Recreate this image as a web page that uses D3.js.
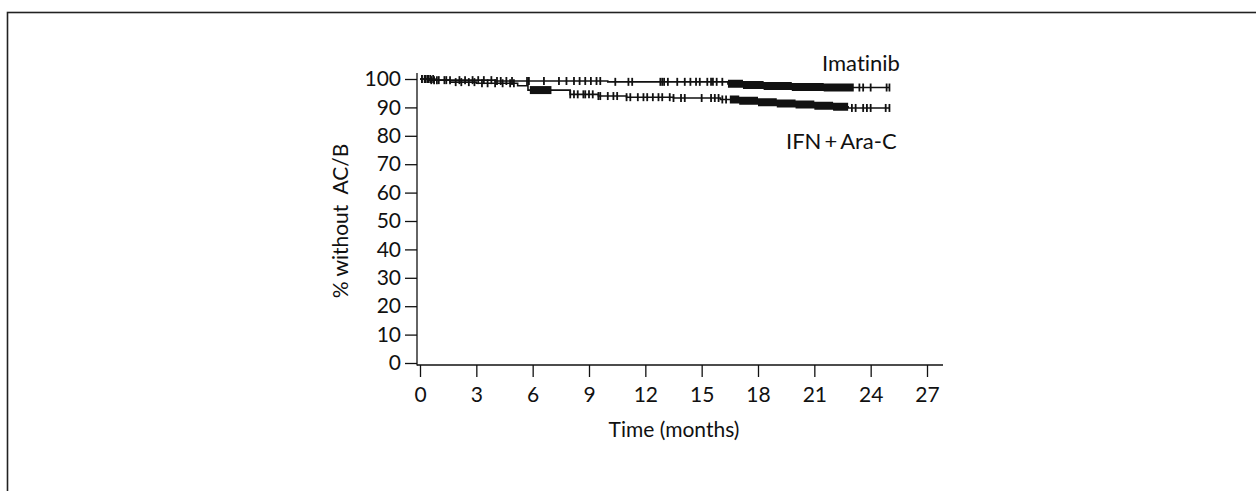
<!DOCTYPE html>
<html>
<head>
<meta charset="utf-8">
<script src="https://cdn.jsdelivr.net/npm/d3@7/dist/d3.min.js"></script>
<style>
  html, body { margin: 0; padding: 0; background: #fff; }
  svg { display: block; }
  text { font-family: Lato, "Open Sans", "DejaVu Sans", sans-serif; fill: #111;
         font-variant-ligatures: none; font-feature-settings: "liga" 0, "dlig" 0; }
</style>
</head>
<body>
<svg id="chart" width="1256" height="491"></svg>
<script>
// Kaplan-Meier step data: time (months) and % without progression to AP/BC
const imatinibTime = [0, 0.8, 4.0, 10.0, 16.4, 17.2, 18.3, 19.8, 21.5, 25.0];
const imatinibSurv = [100, 99.6, 99.3, 99.0, 98.3, 97.9, 97.5, 97.2, 97.0, 97.0];

const ifnTime = [0, 0.5, 1.6, 3.0, 5.2, 5.75, 8.0, 9.5, 11.0, 13.5, 16.0, 17.0, 18.0, 19.0, 20.0, 21.0, 22.0, 22.8, 25.0];
const ifnSurv = [100, 99.6, 98.9, 98.5, 97.6, 96.1, 94.6, 94.0, 93.6, 93.3, 92.8, 92.3, 91.8, 91.4, 91.0, 90.6, 90.2, 89.8, 89.8];

// Censored observations (individual marks)
const imatinibCensor = [0.1, 0.25, 0.4, 0.55, 0.7, 0.9, 1.3, 1.6, 2.1, 2.4, 2.8, 3.1, 3.4, 3.8, 4.1, 4.3, 4.6, 4.9,
  5.7, 5.8, 6.6, 7.4, 7.8, 8.2, 8.5, 8.8, 9.1, 9.4, 9.6, 10.4, 11.1, 11.3, 12.8, 12.9, 13.0, 13.2, 13.7, 14.1,
  14.4, 14.7, 14.9, 15.3, 15.5, 15.6, 15.8, 16.1, 23.4, 23.6, 24.0, 24.85, 25.0];
const ifnCensor = [0.1, 0.3, 0.45, 0.6, 0.75, 1.0, 1.4, 1.9, 2.2, 2.6, 2.9, 3.3, 3.6, 4.0, 4.4, 4.8, 5.0,
  8.0, 8.2, 8.4, 8.7, 8.8, 9.0, 9.2, 9.5, 9.6, 10.0, 10.3, 10.5, 11.0, 11.2, 11.6, 11.9, 12.1, 12.4, 12.7, 12.9,
  13.3, 13.5, 13.9, 14.1, 15.0, 15.5, 15.7, 15.9, 16.1, 16.3, 23.0, 23.2, 23.6, 23.8, 24.0, 24.8, 25.0];

// Stretches where censor marks are so dense they merge: [from, to] months
const imatinibCensorBands = [[16.4, 23.1]];
const ifnCensorBands = [[5.85, 7.0], [16.5, 22.8]];

const xTicks = [0, 3, 6, 9, 12, 15, 18, 21, 24, 27];
const yTicks = [0, 10, 20, 30, 40, 50, 60, 70, 80, 90, 100];

const svg = d3.select("#chart");
const ink = "#111";
const fontSize = 21;

// Frame
svg.append("rect")
  .attr("x", 7.5).attr("y", 12.5).attr("width", 1300).attr("height", 600)
  .attr("fill", "none").attr("stroke", "#222").attr("stroke-width", 1.6);

const x = d3.scaleLinear().domain([0, 27]).range([420, 927]);
const y = d3.scaleLinear().domain([0, 100]).range([363, 79]);

// Axis lines
svg.append("line").attr("x1", 417).attr("x2", 417).attr("y1", 73).attr("y2", 365.5)
  .attr("stroke", ink).attr("stroke-width", 1.3);
svg.append("line").attr("x1", 417).attr("x2", 943).attr("y1", 365).attr("y2", 365)
  .attr("stroke", ink).attr("stroke-width", 1.3);

// Y axis ticks and labels
const yAxis = d3.axisLeft(y).tickValues(yTicks).tickSize(12).tickPadding(4).tickSizeOuter(0);
const gy = svg.append("g").attr("transform", "translate(417,0)").call(yAxis);
gy.select(".domain").remove();
gy.selectAll(".tick line").attr("stroke", ink).attr("stroke-width", 1.3);
gy.selectAll(".tick text").attr("font-size", fontSize).attr("fill", ink)
  .style("font-family", "Lato, 'Open Sans', sans-serif");

// X axis ticks and labels
const xAxis = d3.axisBottom(x).tickValues(xTicks).tickSize(12).tickPadding(10).tickSizeOuter(0);
const gx = svg.append("g").attr("transform", "translate(0,365)").call(xAxis);
gx.select(".domain").remove();
gx.selectAll(".tick line").attr("stroke", ink).attr("stroke-width", 1.3);
gx.selectAll(".tick text").attr("font-size", fontSize).attr("fill", ink)
  .style("font-family", "Lato, 'Open Sans', sans-serif");

// Axis titles
svg.append("text").attr("x", 674).attr("y", 437).attr("text-anchor", "middle")
  .attr("font-size", fontSize).text("Time (months)");
svg.append("text").attr("transform", "translate(348,221) rotate(-90)").attr("text-anchor", "middle")
  .attr("font-size", fontSize).attr("xml:space", "preserve").style("white-space", "pre").text("% without  AC/B");

// Series labels
svg.append("text").attr("x", 822).attr("y", 71)
  .attr("font-size", 22).text("Imatinib");
const lab2 = svg.append("text").attr("x", 786).attr("y", 149).attr("font-size", 22);
lab2.append("tspan").text("IFN");
lab2.append("tspan").attr("dx", 3).text("+");
lab2.append("tspan").attr("dx", 3).text("Ara-C");

function drawSeries(times, surv, censor, bands) {
  const pts = times.map((t, i) => [t, surv[i]]);
  const survAt = t => {
    let v = surv[0];
    for (let i = 0; i < times.length; i++) { if (times[i] <= t) v = surv[i]; }
    return v;
  };
  const line = d3.line().x(d => x(d[0])).y(d => y(d[1])).curve(d3.curveStepAfter);
  svg.append("path").attr("d", line(pts)).attr("fill", "none")
    .attr("stroke", ink).attr("stroke-width", 1.6);

  // dense censoring drawn as a solid strip following the curve
  bands.forEach(([a, b]) => {
    const inner = times.filter(t => t > a && t < b);
    const bp = [[a, survAt(a)], ...inner.map(t => [t, survAt(t)]), [b, survAt(b)]];
    const area = d3.area().x(d => x(d[0])).y0(d => y(d[1]) - 4).y1(d => y(d[1]) + 4)
      .curve(d3.curveStepAfter);
    svg.append("path").attr("d", area(bp)).attr("fill", ink);
  });

  svg.append("g").selectAll("line").data(censor).join("line")
    .attr("x1", d => x(d)).attr("x2", d => x(d))
    .attr("y1", d => y(survAt(d)) - 4).attr("y2", d => y(survAt(d)) + 4)
    .attr("stroke", ink).attr("stroke-width", 1.8);
}

drawSeries(ifnTime, ifnSurv, ifnCensor, ifnCensorBands);
drawSeries(imatinibTime, imatinibSurv, imatinibCensor, imatinibCensorBands);
</script>
</body>
</html>
